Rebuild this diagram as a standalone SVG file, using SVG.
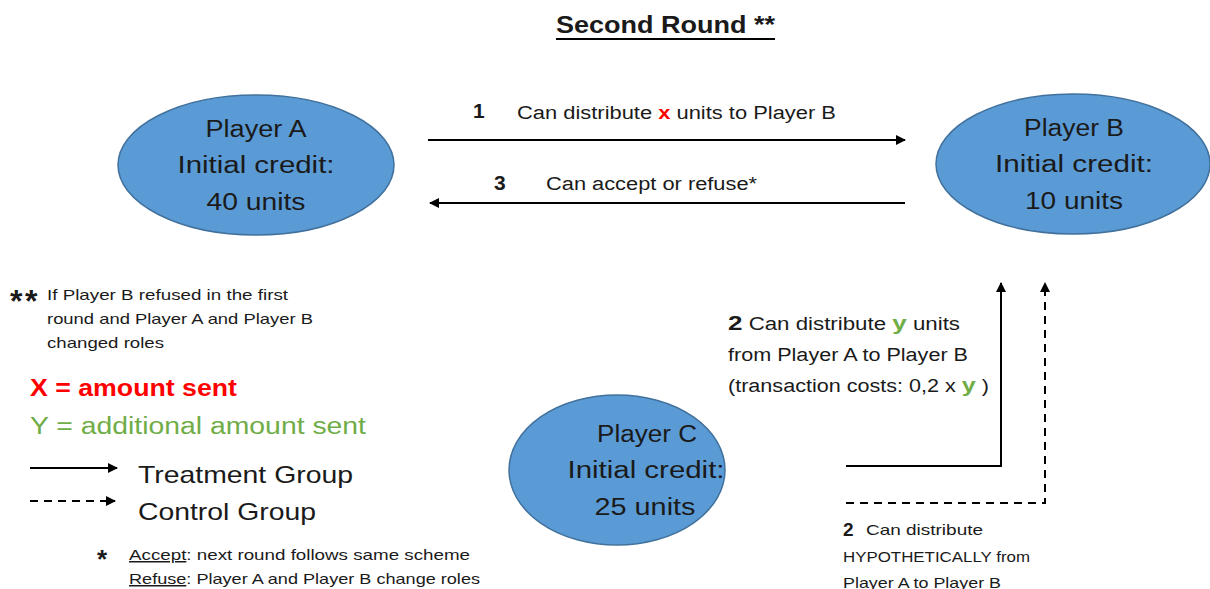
<svg xmlns="http://www.w3.org/2000/svg" width="1210" height="589" viewBox="0 0 1210 589">
<style>
text{font-family:"Liberation Sans",Arial,sans-serif;fill:#1a1a1a}
.node{fill:#5B9BD5;stroke:#41719C;stroke-width:1.5}
.nt{font-size:23px;text-anchor:middle}
.conn{fill:none;stroke:#000;stroke-width:2}
.dash{stroke-dasharray:8 6}
.lbl{font-size:18px}
.num{font-weight:bold;font-size:21px}
.sm{font-size:15px}
.red{fill:#FF0000;font-weight:bold}
.grn{fill:#70AD47;font-weight:bold}
.ast{font-size:32px;font-weight:bold}
</style>
<defs>
<marker id="ah" viewBox="0 0 10 10" refX="9" refY="5" markerWidth="5" markerHeight="5" orient="auto" markerUnits="strokeWidth">
<path d="M0,0 L10,5 L0,10 z" fill="#000"/>
</marker>
</defs>
<rect width="1210" height="589" fill="#fff"/>

<g id="title">
<text x="556" y="33" font-size="23" font-weight="bold" textLength="219" lengthAdjust="spacingAndGlyphs">Second Round **</text>
<line x1="556" y1="39" x2="775" y2="39" stroke="#000" stroke-width="2"/>
</g>

<g id="playerA">
<ellipse class="node" cx="256" cy="165" rx="138" ry="70"/>
<text class="nt" x="256" y="137" textLength="101" lengthAdjust="spacingAndGlyphs">Player A</text>
<text class="nt" x="256" y="173" textLength="157" lengthAdjust="spacingAndGlyphs">Initial credit:</text>
<text class="nt" x="256" y="210" textLength="99" lengthAdjust="spacingAndGlyphs">40 units</text>
</g>

<g id="playerB">
<ellipse class="node" cx="1073" cy="164" rx="137" ry="70"/>
<text class="nt" x="1074" y="136" textLength="100" lengthAdjust="spacingAndGlyphs">Player B</text>
<text class="nt" x="1074" y="172" textLength="158" lengthAdjust="spacingAndGlyphs">Initial credit:</text>
<text class="nt" x="1074" y="209" textLength="98" lengthAdjust="spacingAndGlyphs">10 units</text>
</g>

<g id="playerC">
<ellipse class="node" cx="617" cy="470" rx="108" ry="75"/>
<text class="nt" x="647" y="442" textLength="100" lengthAdjust="spacingAndGlyphs">Player C</text>
<text class="nt" x="646" y="478" textLength="157" lengthAdjust="spacingAndGlyphs">Initial credit:</text>
<text class="nt" x="645" y="515" textLength="101" lengthAdjust="spacingAndGlyphs">25 units</text>
</g>

<g id="connectors">
<line class="conn" x1="428" y1="140" x2="905" y2="140" marker-end="url(#ah)"/>
<line class="conn" x1="905" y1="203" x2="430" y2="203" marker-end="url(#ah)"/>
<polyline class="conn" points="846,466 1001,466 1001,283" marker-end="url(#ah)"/>
<polyline class="conn dash" points="846,503 1045,503 1045,283" marker-end="url(#ah)"/>
</g>

<g id="labels">
<text class="num" x="473" y="118">1</text>
<text class="lbl" x="517" y="119" textLength="319" lengthAdjust="spacingAndGlyphs">Can distribute <tspan class="red">x</tspan> units to Player B</text>
<text class="num" x="494" y="190">3</text>
<text class="lbl" x="546" y="190" textLength="211" lengthAdjust="spacingAndGlyphs">Can accept or refuse*</text>

<text class="lbl" x="728" y="330" textLength="232" lengthAdjust="spacingAndGlyphs"><tspan class="num">2</tspan> Can distribute <tspan class="grn" font-size="21">y</tspan> units</text>
<text class="lbl" x="728" y="361" textLength="240" lengthAdjust="spacingAndGlyphs">from Player A to Player B</text>
<text class="lbl" x="728" y="392" textLength="261" lengthAdjust="spacingAndGlyphs">(transaction costs: 0,2 x <tspan class="grn" font-size="21">y</tspan> )</text>

<text x="843" y="536" font-size="19" font-weight="bold">2</text>
<text class="sm" x="866" y="535" textLength="117" lengthAdjust="spacingAndGlyphs">Can distribute</text>
<text class="sm" x="843" y="562" textLength="187" lengthAdjust="spacingAndGlyphs">HYPOTHETICALLY from</text>
<text class="sm" x="843" y="588" textLength="158" lengthAdjust="spacingAndGlyphs">Player A to Player B</text>
</g>

<g id="notes">
<text class="ast" x="10" y="312">*</text>
<text class="ast" x="25" y="312">*</text>
<text class="sm" x="47" y="300" textLength="241" lengthAdjust="spacingAndGlyphs">If Player B refused in the first</text>
<text class="sm" x="47" y="324" textLength="266" lengthAdjust="spacingAndGlyphs">round and Player A and Player B</text>
<text class="sm" x="47" y="348" textLength="117" lengthAdjust="spacingAndGlyphs">changed roles</text>

<text x="30" y="396" font-size="23" font-weight="bold" style="fill:#FF0000" textLength="207" lengthAdjust="spacingAndGlyphs">X = amount sent</text>
<text x="30" y="434" font-size="23" style="fill:#70AD47" textLength="336" lengthAdjust="spacingAndGlyphs">Y = additional amount sent</text>
</g>

<g id="legend">
<line class="conn" x1="30" y1="468" x2="117" y2="468" marker-end="url(#ah)"/>
<line class="conn" x1="30" y1="501" x2="115" y2="501" marker-end="url(#ah)" style="stroke-dasharray:8 6"/>
<text x="138" y="483" font-size="24" textLength="215" lengthAdjust="spacingAndGlyphs">Treatment Group</text>
<text x="138" y="520" font-size="24" textLength="178" lengthAdjust="spacingAndGlyphs">Control Group</text>
</g>

<g id="footnote">
<text x="97" y="568" font-size="26" font-weight="bold">*</text>
<text class="sm" x="129" y="560" textLength="341" lengthAdjust="spacingAndGlyphs"><tspan text-decoration="underline">Accept</tspan>: next round follows same scheme</text>
<text class="sm" x="129" y="584" textLength="351" lengthAdjust="spacingAndGlyphs"><tspan text-decoration="underline">Refuse</tspan>: Player A and Player B change roles</text>
</g>
</svg>
